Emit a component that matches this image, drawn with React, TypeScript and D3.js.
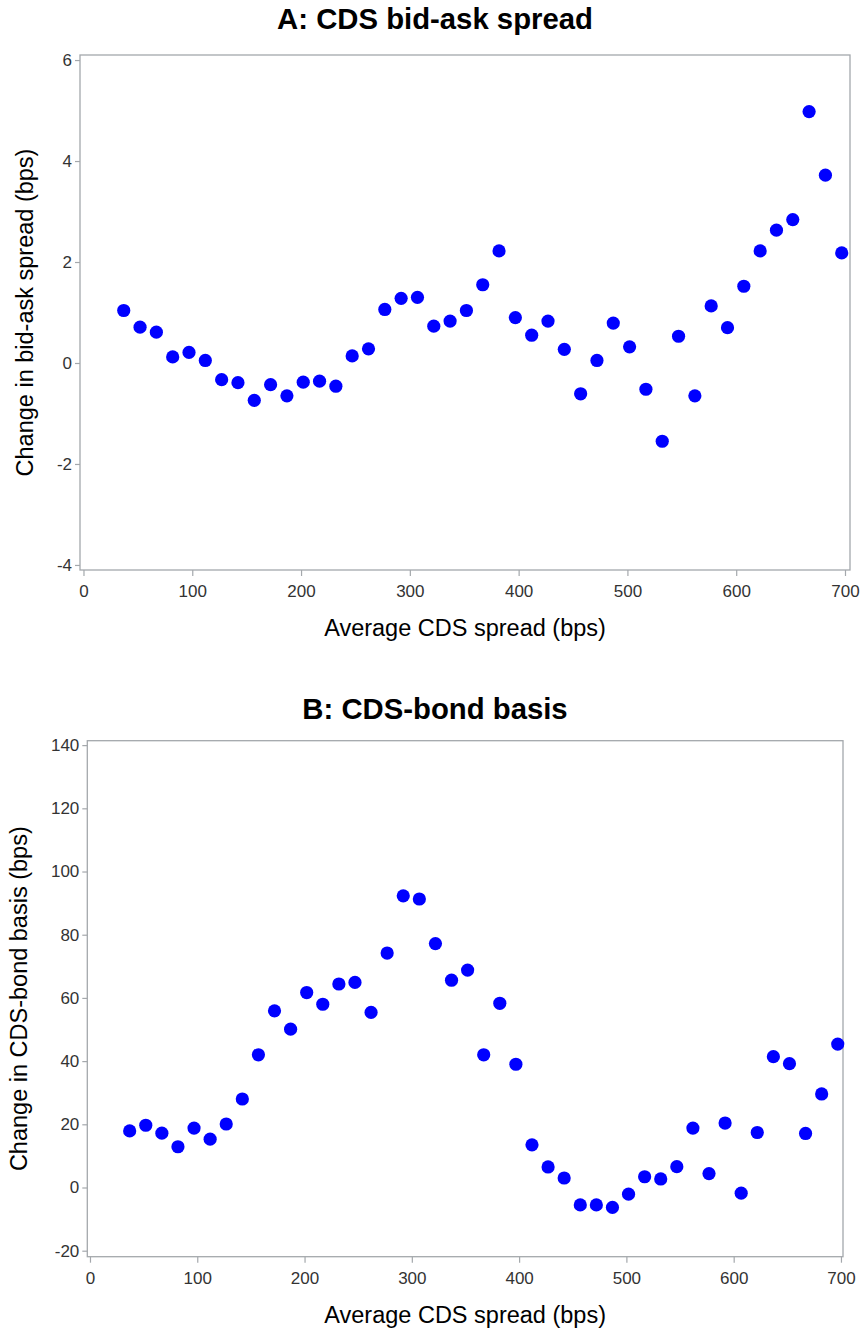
import React, { useEffect, useRef } from 'react';
import * as d3 from 'd3';

// average CDS spread of each bin (bps), shared by both panels
const SPREAD_BINS = [
  37, 52, 67, 82, 97, 112, 127, 142, 157, 172, 187, 202, 217, 232, 247,
  262, 277, 292, 307, 322, 337, 352, 367, 382, 397, 412, 427, 442, 457, 472,
  487, 502, 517, 532, 547, 562, 577, 592, 607, 622, 637, 652, 667, 682, 697,
];

// Panel A: change in bid-ask spread (bps)
const BID_ASK_CHANGE = [
  1.04, 0.71, 0.61, 0.12, 0.21, 0.05, -0.33, -0.39, -0.74, -0.43, -0.65, -0.38, -0.36, -0.46, 0.14,
  0.28, 1.06, 1.28, 1.3, 0.73, 0.83, 1.04, 1.55, 2.22, 0.9, 0.55, 0.83, 0.27, -0.61, 0.05,
  0.79, 0.32, -0.52, -1.55, 0.53, -0.65, 1.13, 0.7, 1.52, 2.22, 2.63, 2.84, 4.98, 3.72, 2.18,
];

// Panel B: change in CDS-bond basis (bps)
const BASIS_CHANGE = [
  17.9, 19.7, 17.2, 12.9, 18.8, 15.3, 20.1, 28.0, 42.0, 55.9, 50.1, 61.7, 58.0, 64.4, 64.9,
  55.4, 74.2, 92.3, 91.3, 77.2, 65.6, 68.8, 42.0, 58.3, 39.0, 13.5, 6.5, 3.0, -5.5, -5.5,
  -6.3, -2.1, 3.4, 2.7, 6.6, 18.8, 4.4, 20.4, -1.8, 17.4, 41.4, 39.2, 17.1, 29.6, 45.4,
];

const X_TICKS = [0, 100, 200, 300, 400, 500, 600, 700];
const Y_TICKS_A = [-4, -2, 0, 2, 4, 6];
const Y_TICKS_B = [-20, 0, 20, 40, 60, 80, 100, 120, 140];

const WIDTH = 863;
const HEIGHT = 1328;
const FONT = '"Liberation Sans", Arial, Helvetica, sans-serif';
const FRAME = '#a4a8ac';
const TEXT = '#333';

type Panel = {
  title: string;
  yLabel: string;
  values: number[];
  yTicks: number[];
  box: { left: number; right: number; top: number; bottom: number };
  xDomain: [number, number];
  yDomain: [number, number];
  titleY: number;
  yLabelX: number;
};

const PANELS: Panel[] = [
  {
    title: 'A: CDS bid-ask spread',
    yLabel: 'Change in bid-ask spread (bps)',
    values: BID_ASK_CHANGE,
    yTicks: Y_TICKS_A,
    box: { left: 80, right: 850, top: 55, bottom: 570 },
    xDomain: [-3.2, 704.6],
    yDomain: [-4.1, 6.1],
    titleY: 28.5,
    yLabelX: 33,
  },
  {
    title: 'B: CDS-bond basis',
    yLabel: 'Change in CDS-bond basis (bps)',
    values: BASIS_CHANGE,
    yTicks: Y_TICKS_B,
    box: { left: 87.3, right: 843, top: 740.7, bottom: 1256.7 },
    xDomain: [-2.5, 701.9],
    yDomain: [-21.9, 141.4],
    titleY: 718.5,
    yLabelX: 27,
  },
];

// plain hyphen for negatives, as in the original
const fmt = (d: d3.NumberValue) => String(d);

export default function App() {
  const svgRef = useRef<SVGSVGElement | null>(null);

  useEffect(() => {
    const svgEl = svgRef.current;
    if (!svgEl) return;
    const svg = d3.select(svgEl);
    svg.selectAll('*').remove();

    svg.append('rect').attr('width', WIDTH).attr('height', HEIGHT).attr('fill', '#fff');

    PANELS.forEach(p => {
      const { box } = p;
      const x = d3.scaleLinear().domain(p.xDomain).range([box.left, box.right]);
      const y = d3.scaleLinear().domain(p.yDomain).range([box.bottom, box.top]);
      const g = svg.append('g');

      // title
      g.append('text')
        .attr('x', 435)
        .attr('y', p.titleY)
        .attr('text-anchor', 'middle')
        .attr('font-family', FONT)
        .attr('font-weight', 'bold')
        .attr('font-size', 29.3)
        .attr('fill', '#000')
        .text(p.title);

      // frame
      g.append('rect')
        .attr('x', box.left)
        .attr('y', box.top)
        .attr('width', box.right - box.left)
        .attr('height', box.bottom - box.top)
        .attr('fill', 'none')
        .attr('stroke', FRAME)
        .attr('stroke-width', 1.3);

      // x axis
      const xAxis = g.append('g')
        .attr('transform', `translate(0,${box.bottom})`)
        .call(d3.axisBottom(x).tickValues(X_TICKS).tickFormat(fmt).tickSize(6).tickSizeOuter(0).tickPadding(9));
      xAxis.select('.domain').remove();
      xAxis.selectAll('line').attr('stroke', FRAME).attr('stroke-width', 1.2);
      xAxis.selectAll('text')
        .attr('font-family', FONT)
        .attr('font-size', 17)
        .attr('fill', TEXT);

      // y axis
      const yAxis = g.append('g')
        .attr('transform', `translate(${box.left},0)`)
        .call(d3.axisLeft(y).tickValues(p.yTicks).tickFormat(fmt).tickSize(5).tickSizeOuter(0).tickPadding(3));
      yAxis.select('.domain').remove();
      yAxis.selectAll('line').attr('stroke', FRAME).attr('stroke-width', 1.2);
      yAxis.selectAll('text')
        .attr('font-family', FONT)
        .attr('font-size', 17)
        .attr('fill', TEXT);

      // axis labels
      g.append('text')
        .attr('x', (box.left + box.right) / 2)
        .attr('y', box.bottom + 66)
        .attr('text-anchor', 'middle')
        .attr('font-family', FONT)
        .attr('font-size', 23.5)
        .attr('fill', '#000')
        .text('Average CDS spread (bps)');

      g.append('text')
        .attr('transform', `translate(${p.yLabelX},${(box.top + box.bottom) / 2}) rotate(-90)`)
        .attr('text-anchor', 'middle')
        .attr('font-family', FONT)
        .attr('font-size', 23.5)
        .attr('fill', '#000')
        .text(p.yLabel);

      // markers
      g.append('g')
        .selectAll('circle')
        .data(p.values)
        .enter()
        .append('circle')
        .attr('cx', (_, i) => x(SPREAD_BINS[i]))
        .attr('cy', d => y(d))
        .attr('r', 6.6)
        .attr('fill', '#0000ff');
    });
  }, []);

  return (
    <div style={{ position: 'absolute', left: 0, top: 0 }}>
      <svg ref={svgRef} width={WIDTH} height={HEIGHT} style={{ display: 'block' }} />
    </div>
  );
}
